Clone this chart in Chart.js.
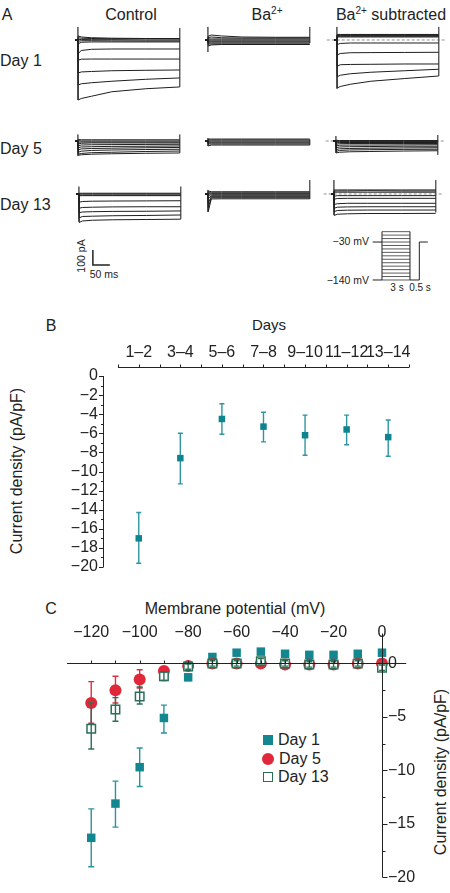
<!DOCTYPE html>
<html>
<head>
<meta charset="utf-8">
<script src="https://cdn.jsdelivr.net/npm/chart.js@4.4.0/dist/chart.umd.min.js"></script>
<style>
body{margin:0;width:450px;height:893px;position:relative;overflow:hidden;background:#fff;font-family:"Liberation Sans",Arial,sans-serif;color:#222}
canvas{position:absolute}
.t{position:absolute;white-space:nowrap;line-height:1;font-size:16px}
.c{transform:translate(-50%,-50%)}
.l{transform:translate(0,-50%)}
.r{transform:translate(-100%,-50%)}
.v{transform:translate(-50%,-50%) rotate(-90deg)}
sup{font-size:10px;vertical-align:6px;line-height:0}
.small{font-size:10.5px}
#legend .row{position:absolute;left:0;height:18px;display:flex;align-items:center;font-size:16px;white-space:nowrap}
#legend .mk{display:inline-block;box-sizing:border-box;margin-right:5px}
</style>
</head>
<body>
<div class="t c" style="left:7px;top:15px">A</div>
<div class="t c" style="left:131px;top:15px">Control</div>
<div class="t c" style="left:267px;top:15px">Ba<sup>2+</sup></div>
<div class="t c" style="left:391px;top:15px">Ba<sup>2+</sup> subtracted</div>
<div class="t l" style="left:0;top:61px">Day 1</div>
<div class="t l" style="left:0;top:149px">Day 5</div>
<div class="t l" style="left:0;top:205px">Day 13</div>
<div class="t v small" style="left:81px;top:256px">100 pA</div>
<div class="t c small" style="left:104px;top:274px">50 ms</div>
<div class="t r small" style="left:369px;top:241px">−30 mV</div>
<div class="t r small" style="left:369px;top:280px">−140 mV</div>
<div class="t c" style="left:397px;top:288px;font-size:10px">3 s</div>
<div class="t c" style="left:420px;top:288px;font-size:10px">0.5 s</div>
<div class="t c" style="left:51px;top:326px">B</div>
<div class="t c" style="left:269px;top:324px;font-size:15px">Days</div>
<div class="t v" style="left:17px;top:471px">Current density (pA/pF)</div>
<div class="t c" style="left:51px;top:609px">C</div>
<div class="t c" style="left:235px;top:609px">Membrane potential (mV)</div>
<div class="t v" style="left:441px;top:772px">Current density (pA/pF)</div>
<div id="legend" style="position:absolute;left:263px;top:731px"></div>
<script>
// panel A: current traces (pA) sampled at these times (ms)
const traceTimes = [-8, 0, 1, 10, 40, 100, 200, 300];
const zeroSpan = [-30, 320];

const day1Control = [
  [0, 0, -400, -390, -375, -345, -325, -313],
  [0, 0, -300, -292, -285, -275, -262, -253],
  [0, 0, -220, -213, -210, -205, -202, -200],
  [0, 0, -135, -128, -127, -127, -127, -127],
  [0, 0, -90, -70, -62, -60, -60, -60],
  [0, 0, -25, -15, -13, -13, -13, -13],
  [0, 0, -8, -5, -5, -6, -7, -7],
  [0, 0, 5, 3, 2, 2, 0, 0],
  [0, 0, 15, 12, 10, 8, 8, 7],
  [0, 0, 27, 20, 15, 12, 10, 10]
];
const day1ControlEdges = [[87, -400], [80, -313]];
const day1Ba = [
  [0, 0, 25, 33, 27, 20, 18, 18],
  [0, 0, 15, 20, 15, 13, 13, 13],
  [0, 0, 7, 7, 7, 7, 7, 7],
  [0, 0, 0, 0, 0, 0, 0, 0],
  [0, 0, -7, -7, -7, -7, -7, -7],
  [0, 0, -13, -13, -13, -13, -13, -13],
  [0, 0, -20, -20, -20, -20, -20, -20],
  [0, 0, -27, -27, -27, -27, -27, -27],
  [0, 0, -40, -33, -30, -30, -30, -30]
];
const day1BaEdges = [[87, -80], [87, -20]];
const day1Sub = [
  [0, 0, 37, 37, 37, 37, 37, 37],
  [0, 0, 33, 33, 33, 33, 33, 33],
  [0, 0, 29, 29, 29, 29, 29, 29],
  [0, 0, 25, 25, 25, 25, 25, 25],
  [0, 0, 20, 20, 20, 20, 20, 20],
  [0, 0, -30, -23, -20, -20, -20, -20],
  [0, 0, -100, -90, -85, -84, -83, -82],
  [0, 0, -175, -165, -163, -162, -160, -160],
  [0, 0, -245, -235, -225, -215, -205, -195],
  [0, 0, -320, -310, -295, -275, -257, -240]
];
const day1SubEdges = [[87, -325], [87, -240]];

const day5Control = [
  [0, 0, 10, 8, 8, 8, 8, 8],
  [0, 0, 2, 0, 0, 0, 0, 0],
  [0, 0, -8, -7, -7, -7, -7, -7],
  [0, 0, -20, -15, -13, -13, -13, -13],
  [0, 0, -32, -27, -25, -24, -23, -22],
  [0, 0, -45, -40, -38, -36, -35, -33],
  [0, 0, -60, -53, -50, -48, -45, -43],
  [0, 0, -75, -68, -63, -60, -57, -55],
  [0, 0, -88, -83, -78, -75, -70, -67],
  [0, 0, -95, -92, -88, -85, -82, -80]
];
const day5ControlEdges = [[43, -100], [43, -80]];
const day5Ba = [
  [0, 0, 13, 13, 13, 13, 13, 13],
  [0, 0, 7, 7, 7, 7, 7, 7],
  [0, 0, 0, 0, 0, 0, 0, 0],
  [0, 0, -7, -7, -7, -7, -7, -7],
  [0, 0, -13, -13, -13, -13, -13, -13],
  [0, 0, -20, -20, -20, -20, -20, -20],
  [0, 0, -33, -27, -27, -27, -27, -27]
];
const day5BaEdges = [[20, -33], [10, -27]];
const day5Sub = [
  [0, 0, 5, 3, 3, 3, 3, 3],
  [0, 0, -2, -3, -3, -3, -3, -3],
  [0, 0, -12, -10, -10, -10, -10, -10],
  [0, 0, -22, -18, -17, -17, -17, -17],
  [0, 0, -33, -28, -27, -27, -26, -25],
  [0, 0, -45, -40, -38, -37, -35, -35],
  [0, 0, -58, -52, -50, -48, -46, -45],
  [0, 0, -70, -63, -60, -58, -56, -55],
  [0, 0, -80, -75, -72, -70, -67, -65]
];
const day5SubEdges = [[33, -80], [40, -92]];

const day13Control = [
  [0, 0, 5, 5, 5, 5, 5, 5],
  [0, 0, 0, 0, 0, 0, 0, 0],
  [0, 0, -7, -7, -7, -7, -7, -7],
  [0, 0, -12, -11, -11, -11, -11, -11],
  [0, 0, -55, -50, -48, -47, -46, -45],
  [0, 0, -95, -90, -88, -86, -85, -85],
  [0, 0, -125, -120, -118, -116, -115, -113],
  [0, 0, -160, -150, -148, -145, -143, -140],
  [0, 0, -190, -180, -175, -172, -170, -168]
];
const day13ControlEdges = [[49, -185], [49, -167]];
const day13Ba = [
  [0, 0, 20, 15, 15, 15, 15, 15],
  [0, 0, 8, 8, 8, 8, 8, 8],
  [0, 0, 0, 2, 2, 2, 2, 2],
  [0, 0, -10, -5, -5, -5, -5, -5],
  [0, 0, -30, -12, -12, -12, -12, -12],
  [0, 0, -60, -18, -18, -18, -18, -18],
  [0, 0, -90, -25, -25, -25, -25, -25],
  [0, 0, -118, -33, -32, -32, -32, -32]
];
const day13BaEdges = [[27, -118], [93, -33]];
const day13Sub = [
  [0, 0, 27, 27, 27, 27, 27, 27],
  [0, 0, 20, 20, 20, 22, 20, 20],
  [0, 0, 12, 12, 12, 12, 12, 12],
  [0, 0, -15, -11, -11, -11, -11, -11],
  [0, 0, -35, -30, -29, -29, -29, -29],
  [0, 0, -70, -65, -62, -62, -62, -62],
  [0, 0, -95, -88, -86, -85, -85, -85],
  [0, 0, -118, -110, -108, -107, -107, -107],
  [0, 0, -143, -135, -132, -130, -130, -129]
];
const day13SubEdges = [[93, -140], [93, -122]];

const scaleBarT = [0, 0, 50];     // ms
const scaleBarI = [100, 0, 0];    // pA

// voltage protocol
const stepLevels = [-140, -130, -120, -110, -100, -90, -80, -70, -60, -50, -40, -30, -20, -10, 0];
const tailT = [3, 4, 4, 4.9];
const tailV = [-140, -140, -30, -30];
const markedLevels = [-30, -140];

// panel B
const dayBins = ['1–2', '3–4', '5–6', '7–8', '9–10', '11–12', '13–14'];
const densityMean = [-17.0, -8.6, -4.5, -5.3, -6.2, -5.6, -6.4];
const densityLow = [-19.6, -11.3, -6.1, -6.9, -8.3, -7.2, -8.4];
const densityHigh = [-14.3, -6.0, -2.9, -3.8, -4.1, -4.1, -4.6];
const densityTicks = [0, -2, -4, -6, -8, -10, -12, -14, -16, -18, -20];

// panel C
const mvSteps = [-120, -110, -100, -90, -80, -70, -60, -50, -40, -30, -20, -10, 0];
const mvTicks = [-120, -100, -80, -60, -40, -20, 0];
const ivTicks = [-20, -15, -10, -5, 0];
const day1Mean = [-16.3, -13.1, -9.7, -5.1, -1.3, 0.6, 1.0, 1.1, 0.9, 0.8, 0.8, 0.9, 1.0];
const day1Low = [-19.0, -15.3, -11.5, -6.5, -1.6, 0.4, 0.8, 0.9, 0.7, 0.6, 0.6, 0.7, 0.8];
const day1High = [-13.6, -11.0, -7.9, -3.9, -1.0, 0.8, 1.2, 1.3, 1.1, 1.0, 1.0, 1.1, 1.2];
const day5Mean = [-3.7, -2.5, -1.5, -0.7, -0.25, 0, 0, 0, -0.1, -0.1, -0.1, 0, 0];
const day5Low = [-5.6, -3.7, -2.3, -1.1, -0.5, -0.2, -0.2, -0.2, -0.3, -0.3, -0.3, -0.2, -0.2];
const day5High = [-1.7, -1.2, -0.6, -0.3, 0, 0.2, 0.2, 0.2, 0.1, 0.1, 0.1, 0.2, 0.2];
const day13Mean = [-6.1, -4.3, -3.1, -1.2, -0.3, 0, 0, 0.2, 0, -0.1, -0.1, 0, -0.4];
const day13Low = [-8.0, -5.4, -3.8, -1.6, -0.55, -0.25, -0.25, -0.05, -0.25, -0.35, -0.35, -0.25, -0.65];
const day13High = [-3.7, -3.2, -2.2, -0.8, -0.05, 0.25, 0.25, 0.45, 0.25, 0.15, 0.15, 0.25, -0.15];
const seriesNames = ['Day 1', 'Day 5', 'Day 13'];

Chart.defaults.font.family = '"Liberation Sans", Arial, sans-serif';
Chart.defaults.color = '#222';

function addCanvas(left, top, w, h) {
  const c = document.createElement('canvas');
  c.width = w; c.height = h;
  c.style.left = left + 'px'; c.style.top = top + 'px';
  document.body.appendChild(c);
  return c;
}

const bare = {
  responsive: false, animation: false, events: [],
  plugins: {legend: {display: false}, tooltip: {enabled: false}}
};

function line(points, color, width) {
  return {data: points, showLine: true, pointRadius: 0, borderColor: color || '#1e1e1e', borderWidth: width || 1, clip: false};
}

function traceChart(left, top, traces, edges, dashed) {
  const last = traceTimes[traceTimes.length - 1];
  const ds = traces.map(v => line(traceTimes.map((t, i) => ({x: t, y: v[i]}))));
  ds.push(line([{x: 0, y: edges[0][0]}, {x: 0, y: edges[0][1]}], '#555', 0.8));
  ds.push(line([{x: last, y: edges[1][0]}, {x: last, y: edges[1][1]}], '#555', 0.8));
  if (dashed) ds.push(Object.assign(line(zeroSpan.map(t => ({x: t, y: 0})), '#777', 0.8), {borderDash: [3, 2]}));
  new Chart(addCanvas(left, top, 129, 84), {
    type: 'scatter',
    data: {datasets: ds},
    options: Object.assign({}, bare, {
      scales: {
        x: {type: 'linear', display: false, min: -35, max: 345},
        y: {display: false, min: -426.7, max: 133.3}
      }
    })
  });
}

traceChart(66, 20, day1Control, day1ControlEdges, false);
traceChart(196, 20, day1Ba, day1BaEdges, false);
traceChart(325, 20, day1Sub, day1SubEdges, true);
traceChart(66, 121, day5Control, day5ControlEdges, false);
traceChart(196, 121, day5Ba, day5BaEdges, false);
traceChart(324, 121, day5Sub, day5SubEdges, true);
traceChart(67, 174, day13Control, day13ControlEdges, false);
traceChart(196, 174, day13Ba, day13BaEdges, false);
traceChart(322, 174, day13Sub, day13SubEdges, true);

// scale bar
new Chart(addCanvas(81, 245, 129, 84), {
  type: 'scatter',
  data: {datasets: [line(scaleBarT.map((t, i) => ({x: t, y: scaleBarI[i]})), '#222', 1.5)]},
  options: Object.assign({}, bare, {
    scales: {x: {type: 'linear', display: false, min: -35, max: 345}, y: {display: false, min: -426.7, max: 133.3}}
  })
});

// protocol
const protoSets = stepLevels.map(v => line([{x: 0, y: v}, {x: 3, y: v}], '#333', 0.8));
protoSets.push(line([{x: 0, y: -140}, {x: 0, y: 0}], '#222', 1));
protoSets.push(line([{x: 3, y: -140}, {x: 3, y: 0}], '#222', 1));
protoSets.push(line(tailT.map((t, i) => ({x: t, y: tailV[i]})), '#222', 1));
markedLevels.forEach(v => protoSets.push(line([{x: -1, y: v}, {x: 0, y: v}], '#222', 1)));
new Chart(addCanvas(372, 225, 70, 62), {
  type: 'scatter',
  data: {datasets: protoSets},
  options: Object.assign({}, bare, {
    scales: {x: {type: 'linear', display: false, min: -1.07, max: 6.43}, y: {display: false, min: -160.3, max: 19.3}}
  })
});

// error bars through the y scale
function drawErr(chart, meta, ds) {
  const {ctx} = chart;
  const y = chart.scales.y;
  const w = ds.capWidth || 2.5;
  ctx.save();
  ctx.strokeStyle = ds.errColor;
  ctx.lineWidth = ds.errWidth || 1.2;
  meta.data.forEach((pt, i) => {
    const lo = y.getPixelForValue(ds.errLow[i]);
    const hi = y.getPixelForValue(ds.errHigh[i]);
    ctx.beginPath();
    ctx.moveTo(pt.x, lo); ctx.lineTo(pt.x, hi);
    ctx.moveTo(pt.x - w, lo); ctx.lineTo(pt.x + w, lo);
    ctx.moveTo(pt.x - w, hi); ctx.lineTo(pt.x + w, hi);
    ctx.stroke();
  });
  ctx.restore();
}
const errorBars = {
  id: 'errorBars',
  beforeDatasetDraw(chart, args) {
    const ds = chart.data.datasets[args.index];
    if (ds.errLow && !ds.errOnTop) drawErr(chart, args.meta, ds);
  },
  afterDatasetDraw(chart, args) {
    const ds = chart.data.datasets[args.index];
    if (ds.errLow && ds.errOnTop) drawErr(chart, args.meta, ds);
  }
};

const minus = v => v === 0 ? '0' : (v < 0 ? '−' : '') + Math.abs(v);

// panel B
const axesB = {
  id: 'axesB',
  afterDraw(chart) {
    const {ctx, chartArea: a, scales: {x, y}} = chart;
    ctx.save();
    ctx.strokeStyle = '#222';
    ctx.lineWidth = 1;
    ctx.beginPath();
    const ay = Math.round(a.top - 9) + 0.5;
    ctx.moveTo(x.getPixelForValue(-0.5), ay);
    ctx.lineTo(x.getPixelForValue(6.5), ay);
    for (let v = -0.5; v <= 6.5; v += 0.5) {
      const px = Math.round(x.getPixelForValue(v)) + 0.5;
      ctx.moveTo(px, ay); ctx.lineTo(px, ay - 3);
    }
    const ax = Math.round(a.left) + 0.5;
    ctx.moveTo(ax, y.getPixelForValue(0));
    ctx.lineTo(ax, y.getPixelForValue(-20));
    for (let v = 0; v >= -20; v--) {
      const py = Math.round(y.getPixelForValue(v)) + 0.5;
      ctx.moveTo(ax, py); ctx.lineTo(ax - (v % 2 ? 2.5 : 4.5), py);
    }
    ctx.stroke();
    ctx.restore();
  }
};

new Chart(addCanvas(0, 300, 450, 300), {
  type: 'scatter',
  data: {
    datasets: [{
      data: densityMean.map((v, i) => ({x: i, y: v})),
      errLow: densityLow, errHigh: densityHigh, errColor: '#2f95a0', errWidth: 1.4, capWidth: 2.5,
      pointStyle: 'rect', pointRadius: 4.6, borderWidth: 0,
      backgroundColor: '#0d8490', borderColor: '#0d8490', clip: false
    }]
  },
  options: Object.assign({}, bare, {
    layout: {padding: {left: 0, right: 41, top: 0, bottom: 33}},
    scales: {
      x: {
        type: 'linear', position: 'top', min: -0.86, max: 6.5,
        grid: {display: false, drawTicks: false}, border: {display: false},
        afterBuildTicks: s => { s.ticks = dayBins.map((d, i) => ({value: i})); },
        afterFit: s => { s.height = 76; },
        ticks: {padding: 14, font: {size: 16}, maxRotation: 0, minRotation: 0, autoSkip: false, callback: v => dayBins[v]}
      },
      y: {
        min: -20, max: 0,
        grid: {display: false, drawTicks: false}, border: {display: false},
        afterBuildTicks: s => { s.ticks = densityTicks.map(v => ({value: v})); },
        afterFit: s => { s.width = 103; },
        ticks: {padding: 5, font: {size: 16}, autoSkip: false, callback: minus}
      }
    }
  }),
  plugins: [errorBars, axesB]
});

// panel C
const axesC = {
  id: 'axesC',
  afterDraw(chart) {
    const {ctx, scales: {x, y}} = chart;
    ctx.save();
    ctx.strokeStyle = '#222';
    ctx.lineWidth = 1;
    ctx.beginPath();
    const ay = Math.round(y.getPixelForValue(0)) + 0.5;
    ctx.moveTo(x.getPixelForValue(-130), ay);
    ctx.lineTo(x.getPixelForValue(10), ay);
    for (let v = -120; v <= 0; v += 10) {
      const px = Math.round(x.getPixelForValue(v)) + 0.5;
      ctx.moveTo(px, ay); ctx.lineTo(px, ay - 3);
    }
    const ax = Math.round(x.getPixelForValue(0)) + 0.5;
    ctx.moveTo(ax, y.getPixelForValue(-20));
    ctx.lineTo(ax, y.getPixelForValue(2.8));
    for (let v = -20; v <= 0; v += 2.5) {
      const py = Math.round(y.getPixelForValue(v)) + 0.5;
      ctx.moveTo(ax, py); ctx.lineTo(ax + (v % 5 ? 3 : 5), py);
    }
    ctx.stroke();
    ctx.restore();
  }
};

const ivSets = [
  {
    label: seriesNames[0], order: 3,
    data: day1Mean.map((v, i) => ({x: mvSteps[i], y: v})),
    errLow: day1Low, errHigh: day1High, errColor: '#2a93a0', errWidth: 1.4, capWidth: 3,
    pointStyle: 'rect', pointRadius: 6, borderWidth: 0, backgroundColor: '#12878f', borderColor: '#12878f', clip: false
  },
  {
    label: seriesNames[1], order: 2,
    data: day5Mean.map((v, i) => ({x: mvSteps[i], y: v})),
    errLow: day5Low, errHigh: day5High, errColor: '#e0303f', errWidth: 1.4, capWidth: 3,
    pointStyle: 'circle', pointRadius: 6, borderWidth: 0, backgroundColor: '#e0283a', borderColor: '#e0283a', clip: false
  },
  {
    label: seriesNames[2], order: 1,
    data: day13Mean.map((v, i) => ({x: mvSteps[i], y: v})),
    errLow: day13Low, errHigh: day13High, errColor: '#2a6f57', errWidth: 1.4, capWidth: 3, errOnTop: true,
    pointStyle: 'rect', pointRadius: 6, borderWidth: 1.5, backgroundColor: '#fff', borderColor: '#2a6f57', clip: false
  }
];

new Chart(addCanvas(0, 590, 450, 303), {
  type: 'scatter',
  data: {datasets: ivSets},
  options: Object.assign({}, bare, {
    layout: {padding: {left: 67, right: 0, top: 0, bottom: 10}},
    scales: {
      x: {
        type: 'linear', position: 'top', min: -130, max: 0,
        grid: {display: false, drawTicks: false}, border: {display: false},
        afterBuildTicks: s => { s.ticks = mvTicks.map(v => ({value: v})); },
        afterFit: s => { s.height = 52; },
        ticks: {padding: 0, font: {size: 16}, maxRotation: 0, minRotation: 0, autoSkip: false, callback: minus}
      },
      y: {
        position: 'right', min: -20, max: 2,
        grid: {display: false, drawTicks: false}, border: {display: false},
        afterBuildTicks: s => { s.ticks = ivTicks.map(v => ({value: v})); },
        afterFit: s => { s.width = 68; },
        ticks: {padding: 6, font: {size: 16}, autoSkip: false, callback: minus}
      }
    }
  }),
  plugins: [errorBars, axesC]
});

// legend for panel C
const legend = document.getElementById('legend');
ivSets.forEach((ds, i) => {
  const row = document.createElement('div');
  row.className = 'row';
  row.style.top = (i * 18.5) + 'px';
  const mk = document.createElement('span');
  mk.className = 'mk';
  const round = ds.pointStyle === 'circle';
  const size = round ? 12 : 10;
  mk.style.width = size + 'px';
  mk.style.height = size + 'px';
  mk.style.marginLeft = round ? '-1px' : '0';
  mk.style.background = ds.backgroundColor;
  mk.style.border = ds.borderWidth ? ds.borderWidth + 'px solid ' + ds.borderColor : 'none';
  if (round) mk.style.borderRadius = '50%';
  row.appendChild(mk);
  row.appendChild(document.createTextNode(ds.label));
  legend.appendChild(row);
});
</script>
</body>
</html>
